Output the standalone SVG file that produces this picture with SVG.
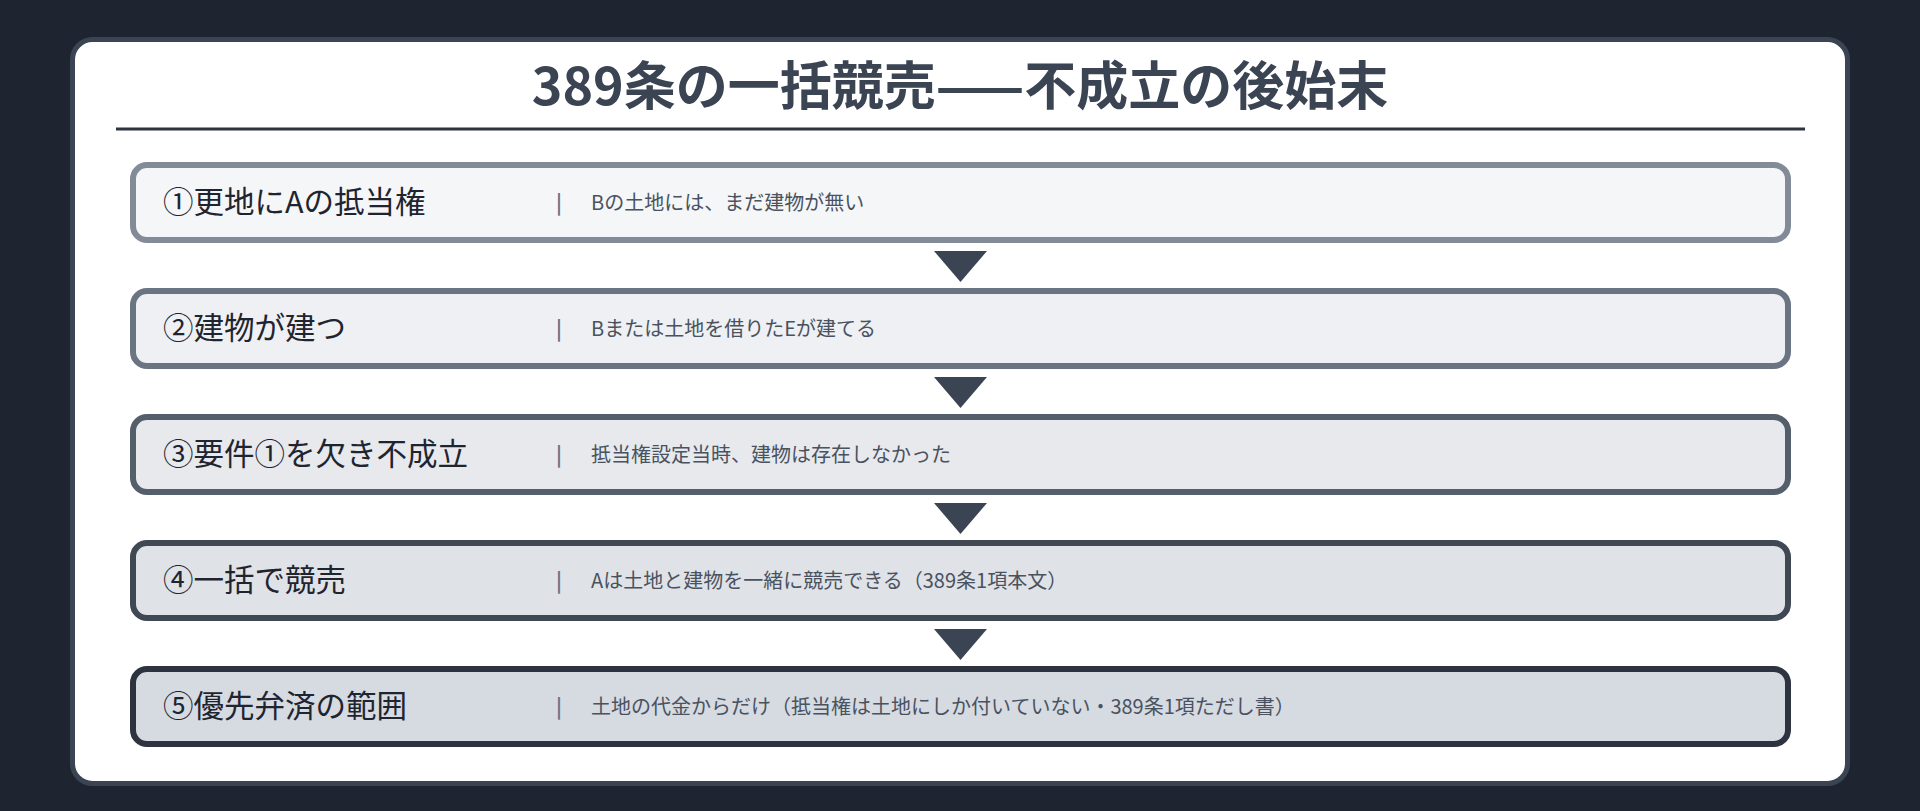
<svg xmlns="http://www.w3.org/2000/svg" width="1920" height="811" viewBox="0 0 1920 811">
<defs>
<style>
.lbl{font-family:"Noto Sans CJK JP","Noto Sans",sans-serif;font-size:30.5px;fill:#1f2530;}
.desc{font-family:"Noto Sans CJK JP","Noto Sans",sans-serif;font-size:20px;fill:#4a5260;}
.sep{font-family:"Noto Sans CJK JP","Noto Sans",sans-serif;font-size:20px;font-weight:bold;fill:#6b7482;}
.box{stroke-width:6;}
.arrow{fill:#3b4452;}
</style>
</defs>
<rect x="0" y="0" width="1920" height="811" fill="#1e2530"/>
<rect x="72.5" y="39.5" width="1775" height="744" rx="20" fill="#ffffff" stroke="#3b4452" stroke-width="5"/>
<g id="title">
<text x="960" y="105" text-anchor="middle" font-family="'Noto Sans CJK JP','Noto Sans',sans-serif" font-size="52" font-weight="bold" fill="#3b4452">389条の一括競売——不成立の後始末</text>
<line x1="116" y1="129" x2="1805" y2="129" stroke="#2d3440" stroke-width="3"/>
</g>
<g id="node1">
<rect class="box" x="133" y="165" width="1655" height="75" rx="14" fill="#f5f6f8" stroke="#838b98"/>
<text class="lbl" x="163" y="213">①更地にAの抵当権</text>
<text class="sep" x="556" y="210">|</text>
<text class="desc" x="591" y="210">Bの土地には、まだ建物が無い</text>
</g>
<g id="node2">
<rect class="box" x="133" y="291" width="1655" height="75" rx="14" fill="#eef0f3" stroke="#6b7482"/>
<text class="lbl" x="163" y="339">②建物が建つ</text>
<text class="sep" x="556" y="336">|</text>
<text class="desc" x="591" y="336">Bまたは土地を借りたEが建てる</text>
</g>
<g id="node3">
<rect class="box" x="133" y="417" width="1655" height="75" rx="14" fill="#e7e9ed" stroke="#555e6b"/>
<text class="lbl" x="163" y="465">③要件①を欠き不成立</text>
<text class="sep" x="556" y="462">|</text>
<text class="desc" x="591" y="462">抵当権設定当時、建物は存在しなかった</text>
</g>
<g id="node4">
<rect class="box" x="133" y="543" width="1655" height="75" rx="14" fill="#dfe2e7" stroke="#404854"/>
<text class="lbl" x="163" y="591">④一括で競売</text>
<text class="sep" x="556" y="588">|</text>
<text class="desc" x="591" y="588">Aは土地と建物を一緒に競売できる（389条1項本文）</text>
</g>
<g id="node5">
<rect class="box" x="133" y="669" width="1655" height="75" rx="14" fill="#d6dae1" stroke="#2d3440"/>
<text class="lbl" x="163" y="717">⑤優先弁済の範囲</text>
<text class="sep" x="556" y="714">|</text>
<text class="desc" x="591" y="714">土地の代金からだけ（抵当権は土地にしか付いていない・389条1項ただし書）</text>
</g>
<g id="connectors">
<polygon class="arrow" points="934,251 987,251 960.5,282"/>
<polygon class="arrow" points="934,377 987,377 960.5,408"/>
<polygon class="arrow" points="934,503 987,503 960.5,534"/>
<polygon class="arrow" points="934,629 987,629 960.5,660"/>
</g>
</svg>
